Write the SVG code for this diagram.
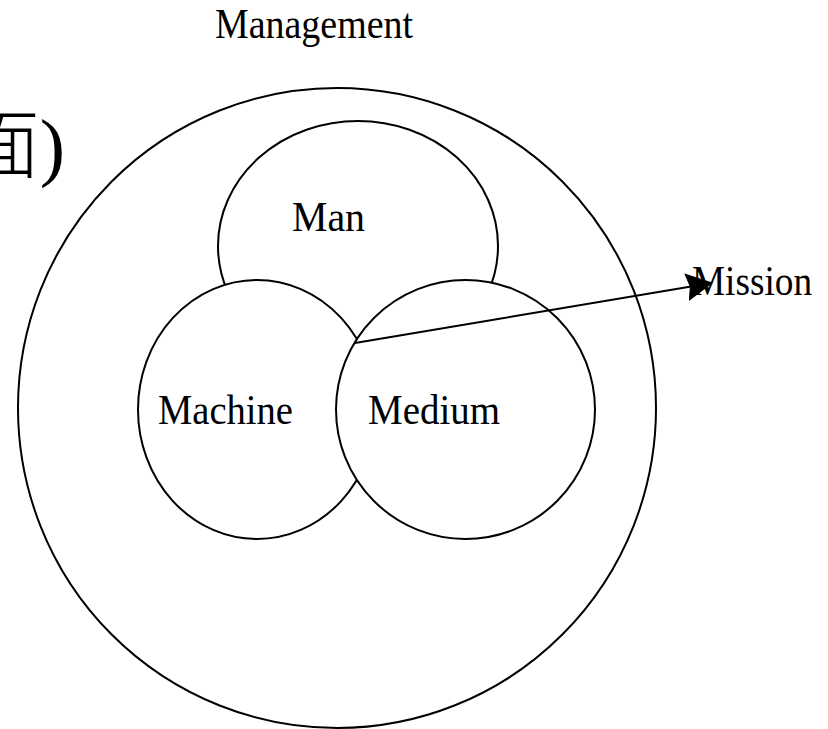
<svg xmlns="http://www.w3.org/2000/svg" width="828" height="729" viewBox="0 0 828 729">
  <style>
    .shape { fill: #ffffff; stroke: #000000; stroke-width: 2; }
    .lbl { font-family: "Liberation Serif", "Times New Roman", serif; font-size: 42px; fill: #000000; }
    .cjk { font-family: "Liberation Serif", "Noto Sans CJK TC", serif; font-size: 76px; font-weight: 300; fill: #000000; }
    .conn { stroke: #000000; stroke-width: 2; fill: none; }
  </style>
  <defs>
    <marker id="arrow" markerUnits="userSpaceOnUse" markerWidth="28" markerHeight="28" refX="25" refY="13" orient="auto" overflow="visible">
      <path d="M0,0 L25,13 L0,26 L3,13 z" fill="#000000" stroke="#000000" stroke-width="1"/>
    </marker>
  </defs>
  <rect x="0" y="0" width="828" height="729" fill="#ffffff"/>

  <g id="title">
    <text class="lbl" x="215" y="38" textLength="198" lengthAdjust="spacingAndGlyphs">Management</text>
  </g>
  <g id="cjk-fragment">
    <text class="cjk" x="65" y="172" text-anchor="end">面)</text>
  </g>

  <g id="management">
    <ellipse class="shape" cx="337" cy="408" rx="319" ry="320"/>
  </g>
  <g id="man">
    <ellipse class="shape" cx="358" cy="246" rx="140" ry="125"/>
    <text class="lbl" x="292" y="231" textLength="73" lengthAdjust="spacingAndGlyphs">Man</text>
  </g>
  <g id="machine">
    <ellipse class="shape" cx="257" cy="409.5" rx="119" ry="129.5"/>
    <text class="lbl" x="158" y="424" textLength="135" lengthAdjust="spacingAndGlyphs">Machine</text>
  </g>
  <g id="medium">
    <ellipse class="shape" cx="465.5" cy="409.5" rx="129.5" ry="129.5"/>
    <text class="lbl" x="368" y="424" textLength="132" lengthAdjust="spacingAndGlyphs">Medium</text>
  </g>

  <g id="connectors">
    <line class="conn" x1="355" y1="343" x2="712" y2="283" marker-end="url(#arrow)"/>
  </g>

  <g id="mission">
    <text class="lbl" x="692" y="295" textLength="120" lengthAdjust="spacingAndGlyphs">Mission</text>
  </g>
</svg>
